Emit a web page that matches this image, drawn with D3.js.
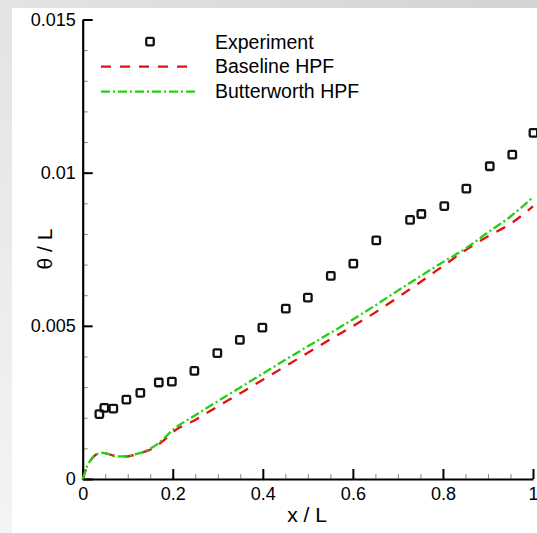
<!DOCTYPE html>
<html>
<head>
<meta charset="utf-8">
<script src="https://cdn.jsdelivr.net/npm/d3@7/dist/d3.min.js"></script>
<style>
  html, body { margin: 0; padding: 0; }
  body { width: 537px; height: 533px; overflow: hidden; }
  svg { display: block; }
  text { font-family: "Liberation Sans", Arial, Helvetica, sans-serif; fill: #000; }
</style>
</head>
<body>
<svg id="chart" width="537" height="533"></svg>
<script>
// Momentum thickness along the plate: measurements and two filter variants
const expX = [0.037, 0.048, 0.068, 0.097, 0.128, 0.169, 0.198, 0.248, 0.299, 0.349, 0.399, 0.451,
              0.500, 0.551, 0.601, 0.652, 0.727, 0.752, 0.803, 0.852, 0.904, 0.954, 1.001];
const expY = [0.00212, 0.00232, 0.00230, 0.00259, 0.00281, 0.00315, 0.00318, 0.00353, 0.00411, 0.00454,
              0.00494, 0.00556, 0.00592, 0.00663, 0.00703, 0.00779, 0.00846, 0.00865, 0.00891, 0.00948,
              0.01021, 0.01059, 0.01130];

const lineX = [0, 0.005, 0.01, 0.02, 0.03, 0.04, 0.05, 0.06, 0.08, 0.10, 0.12, 0.14, 0.16, 0.18, 0.20,
               0.25, 0.30, 0.35, 0.40, 0.45, 0.50, 0.55, 0.60, 0.65, 0.70, 0.75, 0.80, 0.85, 0.90, 0.95, 1.00];
const baselineY = [0, 0.00022, 0.00042, 0.00066, 0.00080, 0.00086, 0.00084, 0.00080, 0.00073, 0.00074,
                   0.00081, 0.00090, 0.00104, 0.00126, 0.00153, 0.00193, 0.00237, 0.00280, 0.00324,
                   0.00368, 0.00412, 0.00456, 0.00499, 0.00544, 0.00593, 0.00643, 0.00695, 0.00747,
                   0.00792, 0.00833, 0.00890];
const butterworthY = [0, 0.00022, 0.00042, 0.00066, 0.00080, 0.00086, 0.00084, 0.00080, 0.00074, 0.00075,
                      0.00082, 0.00092, 0.00108, 0.00132, 0.00160, 0.00208, 0.00254, 0.00299, 0.00344,
                      0.00389, 0.00433, 0.00477, 0.00521, 0.00567, 0.00615, 0.00662, 0.00708, 0.00752,
                      0.00805, 0.00857, 0.00920];

const xTicks = [0, 0.2, 0.4, 0.6, 0.8, 1];
const xTickLabels = ["0", "0.2", "0.4", "0.6", "0.8", "1"];
const yTicks = [0, 0.005, 0.01, 0.015];
const yTickLabels = ["0", "0.005", "0.01", "0.015"];
const xMinor = d3.range(0, 1.0001, 0.05);
const yMinor = d3.range(0, 0.01501, 0.001);

const seriesNames = ["Experiment", "Baseline HPF", "Butterworth HPF"];

const svg = d3.select("#chart");
const W = 537, H = 533;

// Soft grey surround with a white panel
const defs = svg.append("defs");
const grad = defs.append("linearGradient").attr("id", "bg")
  .attr("x1", "0").attr("y1", "1").attr("x2", "1").attr("y2", "0");
grad.append("stop").attr("offset", "0").attr("stop-color", "#f4f4f4");
grad.append("stop").attr("offset", "1").attr("stop-color", "#d3d3d3");
svg.append("rect").attr("width", W).attr("height", H).attr("fill", "url(#bg)");
svg.append("rect").attr("x", 12).attr("y", 8).attr("width", W - 12).attr("height", H - 8).attr("fill", "#fff");

const x = d3.scaleLinear().domain([0, 1]).range([82.7, 533]);
const y = d3.scaleLinear().domain([0, 0.015]).range([479, 19.5]);

// Minor ticks (inward)
const gx = svg.append("g").attr("transform", `translate(0,${y(0)})`);
gx.call(d3.axisBottom(x).tickValues(xMinor).tickSize(-5).tickFormat(""))
  .call(g => g.select(".domain").remove())
  .call(g => g.selectAll("line").attr("stroke", "#888").attr("stroke-width", 1));
const gy = svg.append("g").attr("transform", `translate(${x(0)},0)`);
gy.call(d3.axisLeft(y).tickValues(yMinor).tickSize(-5).tickFormat(""))
  .call(g => g.select(".domain").remove())
  .call(g => g.selectAll("line").attr("stroke", "#888").attr("stroke-width", 1));

// Major axes
const xAxis = svg.append("g").attr("transform", `translate(0,${y(0)})`)
  .call(d3.axisBottom(x).tickValues(xTicks).tickSizeInner(-10).tickSizeOuter(0).tickPadding(8)
        .tickFormat((d, i) => xTickLabels[i]));
const yAxis = svg.append("g").attr("transform", `translate(${x(0)},0)`)
  .call(d3.axisLeft(y).tickValues(yTicks).tickSizeInner(-10).tickSizeOuter(0).tickPadding(7)
        .tickFormat((d, i) => yTickLabels[i]));
[xAxis, yAxis].forEach(a => {
  a.select(".domain").attr("stroke", "#000").attr("stroke-width", 2.2);
  a.selectAll(".tick line").attr("stroke", "#000").attr("stroke-width", 2);
  a.selectAll("text").style("font-size", "18px").attr("fill", "#000")
    .style("font-family", '"Liberation Sans", Arial, sans-serif');
});

// Axis titles
svg.append("text").attr("x", 307).attr("y", 522).attr("text-anchor", "middle")
  .style("font-size", "21px").text("x / L");
svg.append("text").attr("transform", "translate(52,249) rotate(-90)").attr("text-anchor", "middle")
  .style("font-size", "21px").text("θ / L");

// Curves
const line = d3.line().x(d => x(d[0])).y(d => y(d[1])).curve(d3.curveMonotoneX);
svg.append("path").datum(lineX.map((v, i) => [v, baselineY[i]]))
  .attr("d", line).attr("fill", "none").attr("stroke", "#e01010").attr("stroke-width", 2.3)
  .attr("stroke-dasharray", "10,9");
svg.append("path").datum(lineX.map((v, i) => [v, butterworthY[i]]))
  .attr("d", line).attr("fill", "none").attr("stroke", "#22d010").attr("stroke-width", 2.3)
  .attr("stroke-dasharray", "9,3,2,3");

// Experimental points
const s = 7.5;
svg.append("g").selectAll("rect").data(expX.map((v, i) => [v, expY[i]])).join("rect")
  .attr("x", d => x(d[0]) - s / 2).attr("y", d => y(d[1]) - s / 2)
  .attr("width", s).attr("height", s).attr("rx", 1.2)
  .attr("fill", "none").attr("stroke", "#111").attr("stroke-width", 2.3);

// Legend
const lg = svg.append("g");
lg.append("rect").attr("x", 150 - s / 2).attr("y", 41.7 - s / 2).attr("width", s).attr("height", s).attr("rx", 1.2)
  .attr("fill", "none").attr("stroke", "#111").attr("stroke-width", 2.3);
lg.append("line").attr("x1", 101).attr("x2", 192).attr("y1", 66.7).attr("y2", 66.7)
  .attr("stroke", "#e01010").attr("stroke-width", 2.3).attr("stroke-dasharray", "10,9");
lg.append("line").attr("x1", 101).attr("x2", 198).attr("y1", 91.7).attr("y2", 91.7)
  .attr("stroke", "#22d010").attr("stroke-width", 2.3).attr("stroke-dasharray", "9,3,2,3");
[48.5, 73, 97.5].forEach((yy, i) => {
  lg.append("text").attr("x", 215).attr("y", yy).style("font-size", "19.5px").text(seriesNames[i]);
});
</script>
</body>
</html>
